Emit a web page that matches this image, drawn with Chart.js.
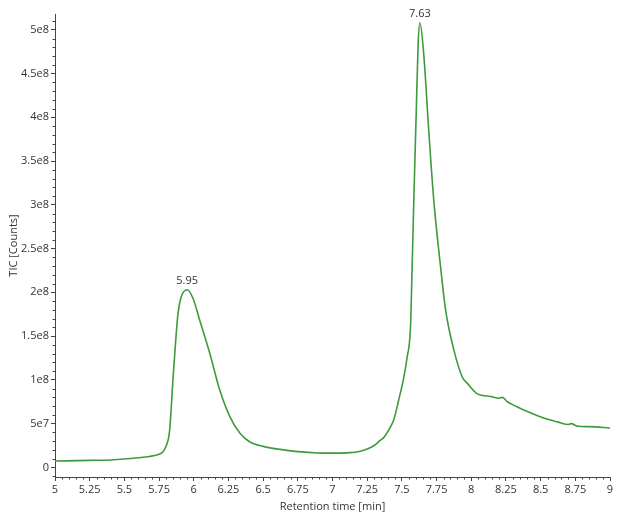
<!DOCTYPE html>
<html>
<head>
<meta charset="utf-8">
<script src="https://cdn.jsdelivr.net/npm/chart.js@4.4.1/dist/chart.umd.min.js"></script>
<style>
  html, body { margin: 0; padding: 0; background: #fff; }
  #chart { display: block; }
</style>
</head>
<body>
<canvas id="chart" width="620" height="515"></canvas>
<script>
// retention time [min] and TIC counts
const retentionTimes = [
  5.0, 5.25, 5.4, 5.5, 5.6, 5.68, 5.75, 5.78, 5.8, 5.826, 5.85, 5.87, 5.886, 5.91,
  5.952, 5.995, 6.043, 6.116, 6.188, 6.26, 6.333, 6.405, 6.5, 6.646, 6.75, 6.887, 7.0,
  7.128, 7.2, 7.25, 7.3, 7.345, 7.369, 7.417, 7.441, 7.477, 7.513, 7.538, 7.562, 7.574,
  7.586, 7.603, 7.617, 7.63, 7.658, 7.694, 7.73, 7.779, 7.815, 7.875, 7.936, 7.972,
  8.044, 8.14, 8.2, 8.225, 8.26, 8.333, 8.4, 8.478, 8.55, 8.623, 8.7, 8.72, 8.767, 8.85, 9.0
];
const ticCounts = [
  7.2e6, 8.0e6, 8.5e6, 9.5e6, 1.1e7, 1.25e7, 1.5e7, 1.8e7, 2.4e7, 4.2e7, 1.0e8, 1.45e8, 1.75e8, 1.95e8,
  2.03e8, 1.93e8, 1.68e8, 1.3e8, 8.8e7, 5.8e7, 3.9e7, 2.9e7, 2.4e7, 2.0e7, 1.8e7, 1.65e7, 1.63e7,
  1.68e7, 1.85e7, 2.1e7, 2.5e7, 3.1e7, 3.4e7, 4.6e7, 5.4e7, 7.7e7, 1.02e8, 1.26e8, 1.6e8, 2.29e8,
  3.05e8, 4.03e8, 4.83e8, 5.08e8, 4.71e8, 3.84e8, 3.05e8, 2.29e8, 1.8e8, 1.34e8, 1.03e8, 9.6e7,
  8.4e7, 8.1e7, 7.9e7, 8.0e7, 7.5e7, 6.9e7, 6.4e7, 5.9e7, 5.5e7, 5.2e7, 4.9e7, 5.0e7, 4.7e7, 4.65e7, 4.5e7
];

// peak annotations
const peakTimes = [5.952, 7.63];
const peakLabels = ['5.95', '7.63'];

// axis settings
const xMin = 5, xMax = 9, xStep = 0.25, xMinorStep = 0.05;
const yMin = -1.1e7, yMax = 5.18e8, yStep = 5e7, yMinorStep = 1e7;

const lineColor = '#3d9a3d';
const axisColor = '#444';
const textColor = '#333';
const fontFamily = '"Open Sans", "DejaVu Sans", sans-serif';

function formatCounts(v) {
  if (Math.abs(v) < 1) return '0';
  const exp = Math.floor(Math.log10(Math.abs(v)) + 1e-9);
  const mant = Math.round(v / Math.pow(10, exp) * 100) / 100;
  return `${mant}e${exp}`;
}

// small ticks between the labelled ones
const minorTicks = {
  id: 'minorTicks',
  afterDraw(chart) {
    const { ctx, scales: { x, y } } = chart;
    ctx.save();
    ctx.strokeStyle = axisColor;
    ctx.lineWidth = 1;
    ctx.beginPath();
    const nx = Math.round((xMax - xMin) / xMinorStep);
    for (let i = 0; i <= nx; i++) {
      if (i % 5 === 0) continue;
      const px = Math.round(x.getPixelForValue(xMin + i * xMinorStep)) + 0.5;
      ctx.moveTo(px, x.top);
      ctx.lineTo(px, x.top + 2.5);
    }
    const ny = Math.floor(yMax / yMinorStep);
    for (let i = -1; i <= ny; i++) {
      if (i % 5 === 0) continue;
      const v = i * yMinorStep;
      if (v < yMin) continue;
      const py = Math.round(y.getPixelForValue(v)) + 0.5;
      ctx.moveTo(y.right, py);
      ctx.lineTo(y.right - 2.5, py);
    }
    ctx.stroke();
    ctx.restore();
  }
};

// retention time labels above the peaks
const peakText = {
  id: 'peakText',
  afterDatasetsDraw(chart) {
    const { ctx, scales: { x, y } } = chart;
    ctx.save();
    ctx.font = `11px ${fontFamily}`;
    ctx.fillStyle = textColor;
    ctx.textAlign = 'center';
    ctx.textBaseline = 'bottom';
    peakTimes.forEach((t, i) => {
      const idx = retentionTimes.indexOf(t);
      if (idx < 0) return;
      ctx.fillText(peakLabels[i], x.getPixelForValue(t), y.getPixelForValue(ticCounts[idx]) - 3);
    });
    ctx.restore();
  }
};

const ctx = document.getElementById('chart').getContext('2d');

new Chart(ctx, {
  type: 'line',
  data: {
    datasets: [{
      label: 'TIC',
      data: retentionTimes.map((t, i) => ({ x: t, y: ticCounts[i] })),
      borderColor: lineColor,
      borderWidth: 1.6,
      pointRadius: 0,
      fill: false,
      cubicInterpolationMode: 'monotone'
    }]
  },
  options: {
    responsive: false,
    animation: false,
    layout: { padding: { top: 14, right: 10, left: 0, bottom: 0 } },
    plugins: {
      legend: { display: false },
      tooltip: { enabled: false }
    },
    scales: {
      x: {
        type: 'linear',
        min: xMin,
        max: xMax,
        afterFit: scale => { scale.height = 38; },
        border: { display: true, color: axisColor, width: 1 },
        grid: { display: true, drawOnChartArea: false, drawTicks: true, tickLength: 4, color: axisColor },
        ticks: {
          stepSize: xStep,
          autoSkip: false,
          maxRotation: 0,
          padding: 2,
          color: textColor,
          font: { family: fontFamily, size: 11 },
          callback: v => String(Math.round(v * 100) / 100)
        },
        title: {
          display: true,
          text: 'Retention time [min]',
          color: textColor,
          font: { family: fontFamily, size: 11 },
          padding: { top: 0, bottom: 2 }
        }
      },
      y: {
        type: 'linear',
        min: yMin,
        max: yMax,
        afterFit: scale => { scale.width = 55; },
        afterBuildTicks: scale => {
          const ticks = [];
          for (let i = 0; i * yStep <= yMax; i++) ticks.push({ value: i * yStep });
          scale.ticks = ticks;
        },
        border: { display: true, color: axisColor, width: 1 },
        grid: { display: true, drawOnChartArea: false, drawTicks: true, tickLength: 4, color: axisColor },
        ticks: {
          autoSkip: false,
          padding: 2,
          color: textColor,
          font: { family: fontFamily, size: 11 },
          callback: v => formatCounts(v)
        },
        title: {
          display: true,
          text: 'TIC [Counts]',
          color: textColor,
          font: { family: fontFamily, size: 11 },
          padding: { top: 7, bottom: 0 }
        }
      }
    }
  },
  plugins: [minorTicks, peakText]
});
</script>
</body>
</html>
